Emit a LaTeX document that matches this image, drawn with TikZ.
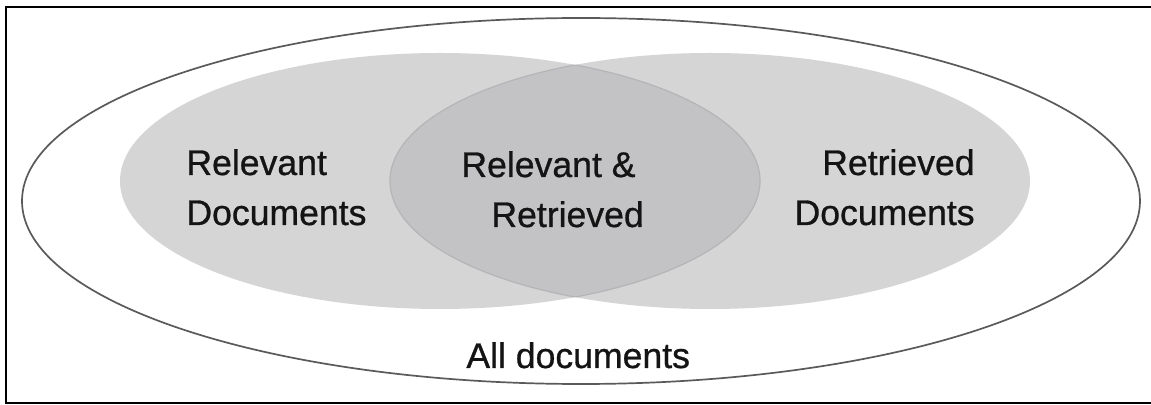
\documentclass[tikz,border=0pt]{standalone}
\usepackage{fontspec}
\setmainfont{Liberation Sans}
\newfontface\lblfont{Liberation Sans}[FakeBold=0.8]
\definecolor{setgray}{HTML}{D5D5D5}
\definecolor{midgray}{HTML}{C3C3C6}
\definecolor{midedge}{HTML}{B5B5B8}
\definecolor{outeredge}{HTML}{5A5A5A}
\begin{document}
\begin{tikzpicture}[x=0.5pt,y=-0.5pt,
  lbl/.style={font=\lblfont\fontsize{17.8}{20}\selectfont, inner sep=0pt, text=black!92},
  setfill/.style={fill=setgray},
  outerset/.style={draw=outeredge, line width=0.85pt, fill=white},
  frame/.style={draw=black, line width=1.1pt}]
\useasboundingbox (0,0) rectangle (1151,405);
\fill[white] (0,0) rectangle (1151,405);
\draw[frame] (1152,7) -- (6,7) -- (6,403) -- (1152,403);
\draw[outerset] (581,201) ellipse [x radius=559, y radius=183];
\fill[setfill] (440,181) ellipse [x radius=320, y radius=128];
\fill[setfill] (710,181) ellipse [x radius=320, y radius=128];
\begin{scope}
  \clip (440,181) ellipse [x radius=320, y radius=128];
  \fill[midgray] (710,181) ellipse [x radius=320, y radius=128];
\end{scope}
\begin{scope}
  \clip (440,181) ellipse [x radius=320, y radius=128];
  \draw[midedge, line width=0.6pt] (710,181) ellipse [x radius=320, y radius=128];
\end{scope}
\begin{scope}
  \clip (710,181) ellipse [x radius=320, y radius=128];
  \draw[midedge, line width=0.6pt] (440,181) ellipse [x radius=320, y radius=128];
\end{scope}
\node[lbl, anchor=base west] (relA) at (186,175) {Relevant};
\node[lbl, anchor=base west] (relB) at (186,225) {Documents};
\node[lbl, anchor=base east] (retA) at (975,175) {Retrieved};
\node[lbl, anchor=base east] (retB) at (975,225) {Documents};
\node[lbl, anchor=base west] (bothA) at (461,177) {Relevant \&};
\node[lbl, anchor=base west] (bothB) at (491,227) {Retrieved};
\node[lbl, anchor=base west] (all) at (466,368) {All documents};
\end{tikzpicture}
\end{document}
